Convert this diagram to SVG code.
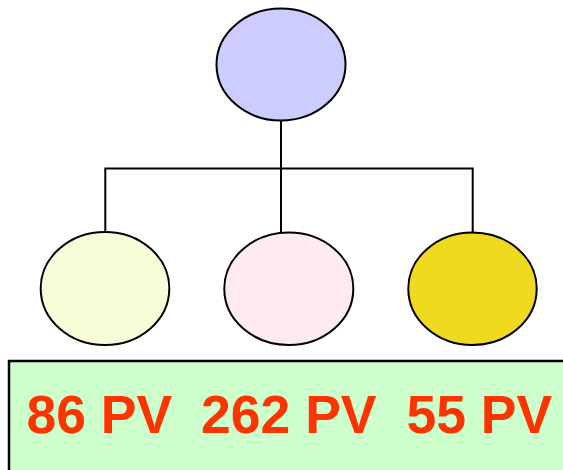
<svg xmlns="http://www.w3.org/2000/svg" width="563" height="470" viewBox="0 0 563 470">
<style>
.node{stroke:#000;stroke-width:2}
.conn{stroke:#000;stroke-width:2;fill:none}
.lbl{font-family:"Liberation Sans",Arial,sans-serif;font-weight:bold;font-size:53.5px;fill:#FF3300}
</style>
<rect width="563" height="470" fill="#fff"/>
<g id="connectors">
<path class="conn" d="M281 121 V168.5 M105.3 232 V168.5 H472.7 V232 M281 168.5 V232"/>
</g>
<g id="root"><ellipse class="node" cx="281" cy="64.5" rx="64.5" ry="56" fill="#CCCCFF"/></g>
<g id="child1"><ellipse class="node" cx="105" cy="288.5" rx="64.3" ry="56.5" fill="#F8FCD8"/></g>
<g id="child2"><ellipse class="node" cx="288.8" cy="288.7" rx="64.5" ry="56.3" fill="#FDEBEF"/></g>
<g id="child3"><ellipse class="node" cx="472.5" cy="288.7" rx="64.2" ry="56.3" fill="#EFDA1F"/></g>
<g id="panel">
<rect x="9" y="361" width="570" height="120" fill="#CCFFCC" stroke="#000" stroke-width="2.5"/>
<text class="lbl" x="26.5" y="433.3">86 PV</text>
<text class="lbl" x="201" y="433.3">262 PV</text>
<text class="lbl" x="406.5" y="433.3">55 PV</text>
</g>
</svg>
